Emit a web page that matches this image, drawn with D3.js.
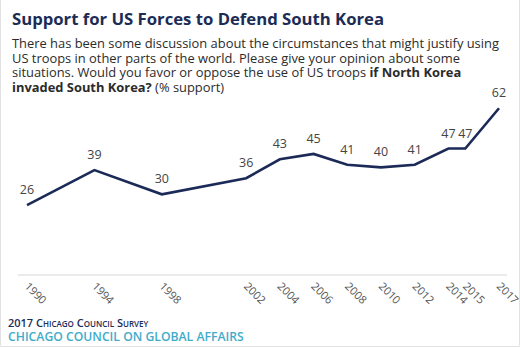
<!DOCTYPE html>
<html>
<head>
<meta charset="utf-8">
<script src="https://cdn.jsdelivr.net/npm/d3@7"></script>
<style>
  body { margin: 0; background: #fff; }
  svg { display: block; font-family: "Open Sans", sans-serif; }
</style>
</head>
<body>
<div id="chart"></div>
<script>
// Survey years and % support
const years = [1990, 1994, 1998, 2002, 2004, 2006, 2008, 2010, 2012, 2014, 2015, 2017];
const support = [26, 39, 30, 36, 43, 45, 41, 40, 41, 47, 47, 62];

const titleText = "Support for US Forces to Defend South Korea";
// subtitle lines, each a list of [text, bold]
const subtitleLines = [
    [["There has been some discussion about the circumstances that might justify using", false]],
    [["US troops in other parts of the world. Please give your opinion about some", false]],
    [["situations. Would you favor or oppose the use of US troops ", false], ["if North Korea", true]],
    [["invaded South Korea?", true], [" (% support)", false]]
];
const sourceText = "2017 Chicago Council Survey";
const orgText = "CHICAGO COUNCIL ON GLOBAL AFFAIRS";

const width = 520, height = 347;

const svg = d3.select("#chart").append("svg")
    .attr("width", width)
    .attr("height", height);

// faint frame on the sides and bottom
svg.append("path")
    .attr("d", `M0.5,0V${height - 0.5}H${width - 0.5}V0`)
    .attr("fill", "none")
    .attr("stroke", "#e2e2e2");

// header
svg.append("text")
    .attr("x", 12).attr("y", 25)
    .attr("font-size", 16.7)
    .attr("font-weight", 700)
    .attr("fill", "#1c2c55")
    .text(titleText);

const sub = svg.append("g").attr("font-size", 12.9).attr("fill", "#2b2b2b");
subtitleLines.forEach((parts, i) => {
    const t = sub.append("text").attr("x", 12).attr("y", 48 + i * 14.5);
    parts.forEach(([s, b]) => {
        t.append("tspan").attr("font-weight", b ? 700 : 400).text(s);
    });
});

// x scale: even spacing per year, with one extra year of room after 1998
const yearW = (499 - 27) / 28;
const x = d3.scaleLinear()
    .domain([1990, 1998, 2002, 2017])
    .range([27, 27 + 8 * yearW, 27 + 13 * yearW, 27 + 28 * yearW]);

const y = d3.scaleLinear()
    .domain([0, 100])
    .range([275, 6]);

// baseline
svg.append("line")
    .attr("x1", 18).attr("x2", 507)
    .attr("y1", y(0)).attr("y2", y(0))
    .attr("stroke", "#e4e4e4")
    .attr("stroke-width", 1.5);

const data = years.map((yr, i) => ({ year: yr, value: support[i] }));

const line = d3.line()
    .x(d => x(d.year))
    .y(d => y(d.value));

svg.append("path")
    .datum(data)
    .attr("fill", "none")
    .attr("stroke", "#1b2a57")
    .attr("stroke-width", 2.6)
    .attr("stroke-linejoin", "miter")
    .attr("d", line);

svg.append("g")
    .attr("font-size", 12.5)
    .attr("fill", "#444")
    .attr("text-anchor", "middle")
    .selectAll("text")
    .data(data)
    .join("text")
    .attr("x", d => x(d.year))
    .attr("y", d => y(d.value) - 11)
    .text(d => d.value);

// rotated year labels
svg.append("g")
    .attr("font-size", 11)
    .attr("fill", "#555")
    .selectAll("text")
    .data(years)
    .join("text")
    .attr("transform", d => `translate(${x(d) - 3},${y(0) + 12}) rotate(45)`)
    .text(d => d);

// footer
svg.append("text")
    .attr("x", 8).attr("y", 327)
    .attr("fill", "#1c2c55")
    .attr("font-size", 11)
    .attr("font-weight", 600)
    .style("font-variant", "small-caps")
    .text(sourceText);

svg.append("text")
    .attr("x", 8).attr("y", 341)
    .attr("fill", "#41acc9")
    .attr("font-size", 12.2)
    .attr("font-weight", 600)
    .text(orgText);
</script>
</body>
</html>
